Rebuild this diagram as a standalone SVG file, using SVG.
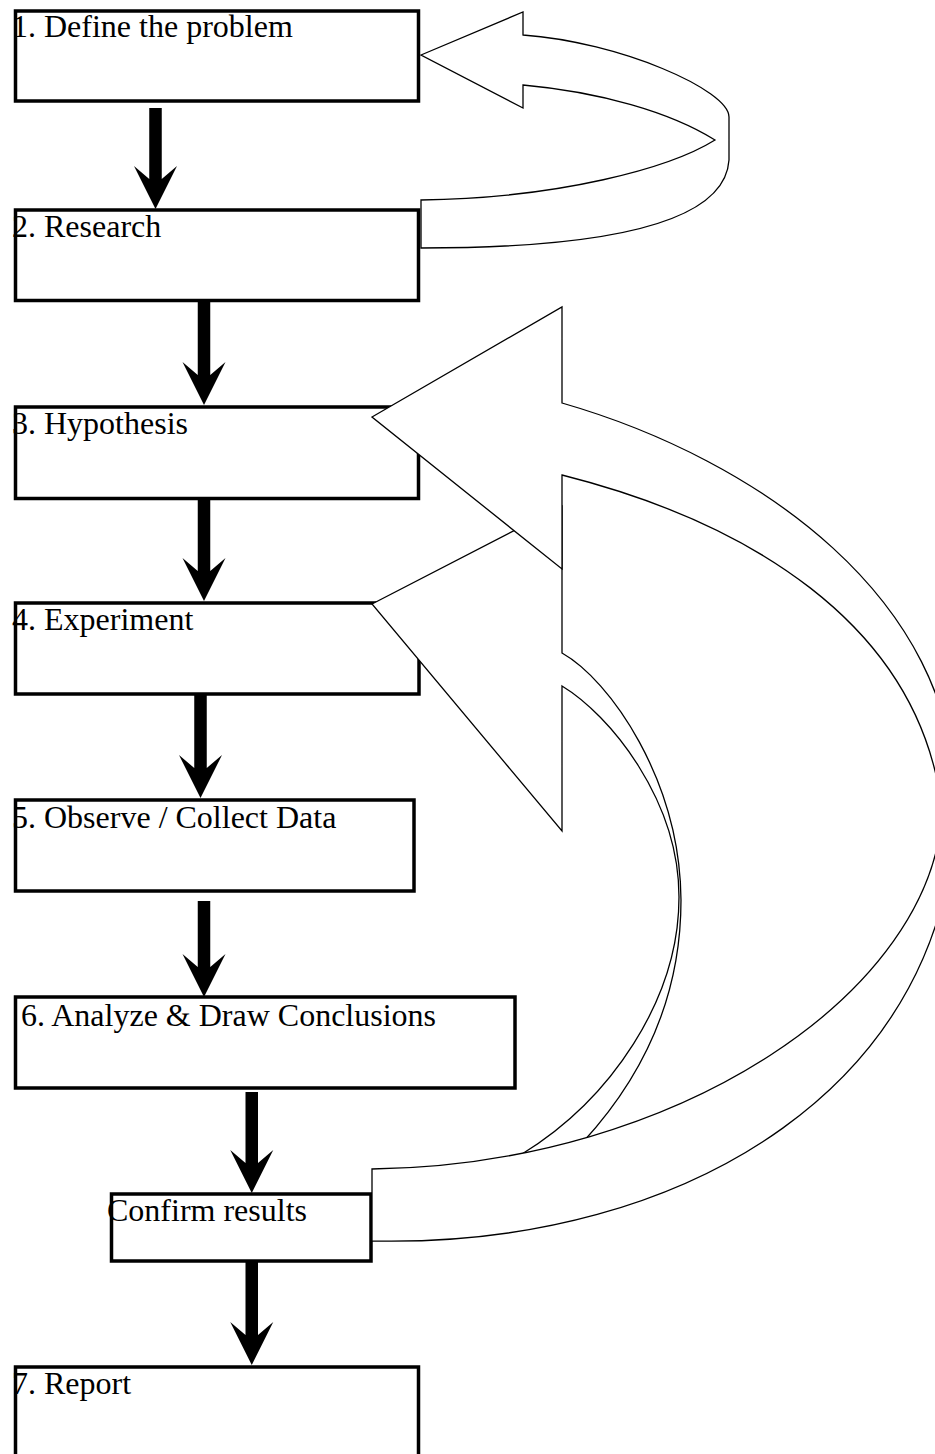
<svg xmlns="http://www.w3.org/2000/svg" width="935" height="1454" viewBox="0 0 935 1454">
<style>
.lbl{font-family:"Liberation Serif","Times New Roman",serif;font-size:32px;fill:#000}
.frame{fill:none;stroke:#000;stroke-width:3.5}
.fat{fill:#000;stroke:none}
.curve{fill:#fff;stroke:#000;stroke-width:1.3;stroke-linejoin:miter}
</style>
<rect width="935" height="1454" fill="#fff"/>
<g id="nodes">
<g id="n1"><text class="lbl" x="12" y="37">1. Define the problem</text><rect class="frame" x="15.5" y="11" width="403" height="90"/></g>
<g id="n2"><text class="lbl" x="12" y="237">2. Research</text><rect class="frame" x="15.5" y="210" width="403" height="90.5"/></g>
<g id="n3"><text class="lbl" x="12" y="434">3. Hypothesis</text><rect class="frame" x="15.5" y="407" width="403" height="91.5"/></g>
<g id="n4"><text class="lbl" x="12" y="630">4. Experiment</text><rect class="frame" x="15.5" y="603" width="403.5" height="91"/></g>
<g id="n5"><text class="lbl" x="12" y="828">5. Observe / Collect Data</text><rect class="frame" x="15.5" y="800" width="398.5" height="91"/></g>
<g id="n6"><text class="lbl" x="21" y="1026">6. Analyze &amp; Draw Conclusions</text><rect class="frame" x="15.5" y="997" width="499.5" height="91"/></g>
<g id="nc"><text class="lbl" x="107" y="1221">Confirm results</text><rect class="frame" x="111.5" y="1194" width="259.5" height="67"/></g>
<g id="n7"><text class="lbl" x="12" y="1394">7. Report</text><rect class="frame" x="15.5" y="1367" width="403" height="90"/></g>
</g>
<g id="connectors">
<path class="fat" d="M149.25,108 V179 L134,166 L155.5,209 L177,166 L161.75,179 V108 Z"/>
<path class="fat" d="M197.75,301 V375 L182.5,362 L204,405 L225.5,362 L210.25,375 V301 Z"/>
<path class="fat" d="M197.75,499 V571 L182.5,558 L204,601 L225.5,558 L210.25,571 V499 Z"/>
<path class="fat" d="M194.25,695 V768 L179,755 L200.5,798 L222,755 L206.75,768 V695 Z"/>
<path class="fat" d="M197.75,901 V967 L182.5,954 L204,997 L225.5,954 L210.25,967 V901 Z"/>
<path class="fat" d="M245.5,1092 V1163 L230.25,1150 L251.75,1193 L273.25,1150 L258,1163 V1092 Z"/>
<path class="fat" d="M245.5,1262 V1335 L230.25,1322 L251.75,1365 L273.25,1322 L258,1335 V1262 Z"/>
<path id="loopC" class="curve" d="M372,604 L562,506 L562,653 C610,680 680,780 681,900 C681,1000 640,1080 583,1142 L540,1190 L500,1190 L522,1154 C610,1100 679,1000 679,897 C679,800 610,715 562,686 L562,831 Z"/>
<path id="loopB" class="curve" d="M372,417 L562,307 L562,403 C760,460 955,600 955,800 C955,1080 690,1248 372,1241 L372,1169 C680,1165 935,990 942,810 C920,620 740,520 562,475 L562,569 Z"/>
<path id="loopA" class="curve" d="M421,55 L523,12 L523,35 C620,42 729,90 729,117 L729,160 C725,225 600,248 421,248 L421,200 C560,198 670,168 715,140 C670,112 600,92 523,85 L523,108 Z"/>
</g>
</svg>
